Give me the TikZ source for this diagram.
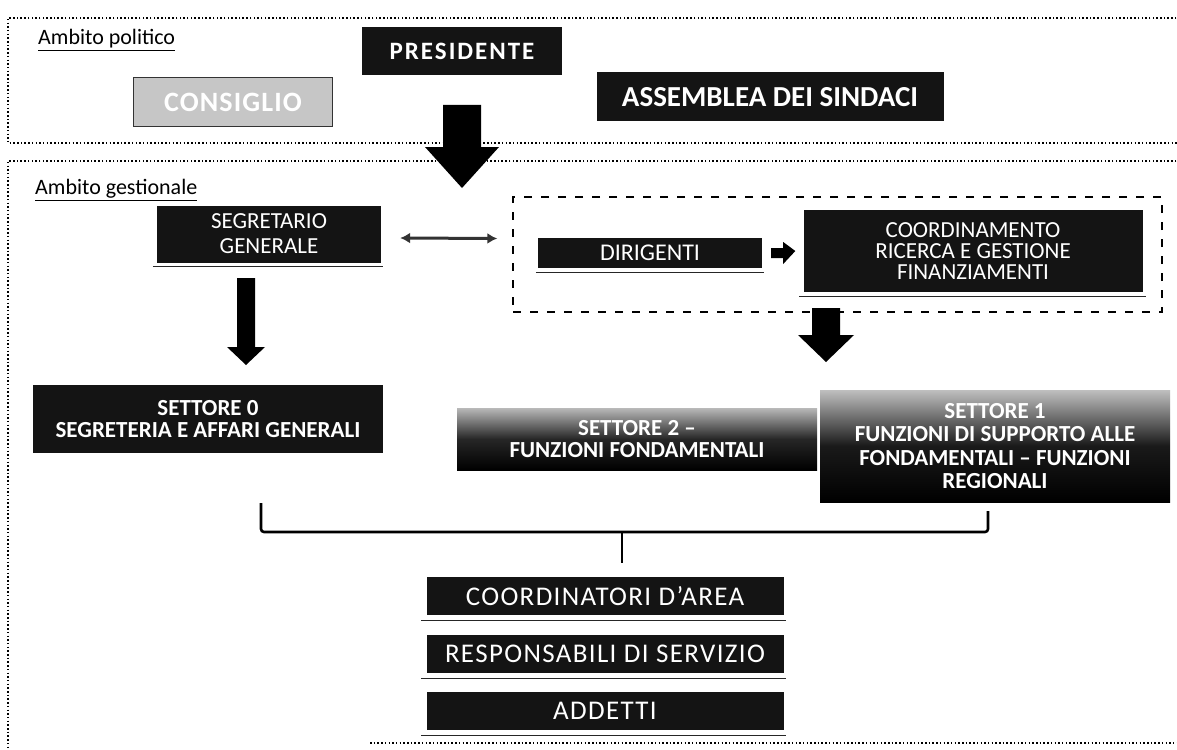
\documentclass[tikz,border=0pt]{standalone}
\usepackage{fontspec}
\setmainfont{Carlito}
\usetikzlibrary{calc,arrows.meta}
\tikzset{
  blk/.style={fill=black!92, text=white, inner sep=0pt, align=center, font=\bfseries\fontsize{23}{22}\selectfont},
  regbox/.style={blk, font=\fontsize{27}{29}\selectfont\addfontfeatures{LetterSpace=5}},
  zone/.style={draw=black, line width=1.8pt, dash pattern=on 1.5pt off 2.2pt},
  lbl/.style={anchor=west, inner sep=0pt, font=\fontsize{22}{24}\selectfont},
  shline/.style={draw=black!85, line width=1.2pt},
}
\newcommand\blkarrowdown[6]{%
  \fill[black] (#1-#4,#2) -- (#1+#4,#2) -- (#1+#4,#3-#6) -- (#1+#5,#3-#6) -- (#1,#3) -- (#1-#5,#3-#6) -- (#1-#4,#3-#6) -- cycle;}
\begin{document}
\begin{tikzpicture}[x=1pt,y=-1pt]
\useasboundingbox (0,0) rectangle (1177,749);
\fill[white] (0,0) rectangle (1177,749);
% zones
\draw[zone] (1180,18) -- (8,18) -- (8,143) -- (1180,143);
\draw[zone] (1180,161) -- (8,161) -- (8,752);
\draw[zone] (370,743) -- (1180,743);
\node[lbl] (amp) at (38,40) {\underline{Ambito politico}};
\node[lbl] (amg) at (35,190) {\underline{Ambito gestionale}};
% political
\node[blk, minimum width=200, minimum height=48, font=\bfseries\fontsize{25}{27}\selectfont\addfontfeatures{LetterSpace=8}] (pres) at (462,51) {PRESIDENTE};
\node[blk, fill=gray!45, draw=black!80, line width=1pt, minimum width=199, minimum height=49, font=\bfseries\fontsize{28}{30}\selectfont\addfontfeatures{LetterSpace=4}] (cons) at (233,102) {CONSIGLIO};
\node[blk, minimum width=347, minimum height=49, font=\bfseries\fontsize{29}{31}\selectfont] (ass) at (770,97) {ASSEMBLEA DEI SINDACI};
\blkarrowdown{462}{105}{188}{19}{37}{41}
% management
\node[blk, font=\fontsize{23}{25}\selectfont, minimum width=224, minimum height=57] (seg) at (269,234) {SEGRETARIO\\GENERALE};
\draw[shline] ($(seg.south west)+(-4,4)$) -- ($(seg.south east)+(2,4)$);
\node[draw=black, line width=1.4pt, dash pattern=on 8pt off 9pt, minimum width=649, minimum height=115, inner sep=0pt] (dash) at (837.5,254.5) {};
\node[blk, font=\fontsize{24}{26}\selectfont, minimum width=224, minimum height=30] (dir) at (650,253) {DIRIGENTI};
\draw[shline] ($(dir.south west)+(-2,4)$) -- ($(dir.south east)+(2,4)$);
\node[blk, font=\fontsize{23}{21}\selectfont, minimum width=339, minimum height=82] (coord) at (973,251) {COORDINAMENTO\\RICERCA E GESTIONE\\FINANZIAMENTI};
\draw[shline] ($(coord.south west)+(-4,4)$) -- ($(coord.south east)+(3,4)$);
\draw[black!80, line width=3pt, {Latex[length=10pt,width=11pt]}-{Latex[length=10pt,width=11pt]}] ($(seg.east)+(19,4)$) -- ($(dash.west)+(-15,-16)$);
% small arrow dir -> coord
\fill[black] ($(dir.east)+(9,-5)$) -- ($(dir.east)+(21,-5)$) -- ($(dir.east)+(21,-11)$) -- ($(coord.west)+(-8,0)$) -- ($(dir.east)+(21,11)$) -- ($(dir.east)+(21,5)$) -- ($(dir.east)+(9,5)$) -- cycle;
\blkarrowdown{246}{278}{365}{9}{19}{18}
\blkarrowdown{826}{308}{362}{14}{28}{27}
% sectors
\node[blk, minimum width=350, minimum height=68] (s0) at (208,419) {SETTORE 0\\SEGRETERIA E AFFARI GENERALI};
\node[blk, top color=gray!55, bottom color=black, middle color=black!85, minimum width=360, minimum height=62] (s2) at (637,439) {SETTORE 2 --\\FUNZIONI FONDAMENTALI};
\node[blk, font=\bfseries\fontsize{23}{23.5}\selectfont, top color=gray!50, bottom color=black, middle color=black!90, minimum width=350, minimum height=112] (s1) at (995,446) {SETTORE 1\\FUNZIONI DI SUPPORTO ALLE\\FONDAMENTALI -- FUNZIONI\\REGIONALI};
% bracket
\coordinate (bl) at (261,503);
\coordinate (br) at (988,511);
\coordinate (bm) at (622,532);
\draw[line width=2.6pt, rounded corners=3pt] (bl) -- (bl |- bm) -- (br |- bm) -- (br);
\draw[line width=2.6pt] (bm) -- ++(0,31) coordinate (bstem);
% staff
\node[regbox, minimum width=357, minimum height=38] (ca) at (605,596) {COORDINATORI D'AREA};
\node[regbox, minimum width=357, minimum height=38] (rs) at (605,654) {RESPONSABILI DI SERVIZIO};
\node[regbox, minimum width=357, minimum height=38] (ad) at (605,711) {ADDETTI};
\foreach \n in {ca,rs,ad} \draw[shline] ($(\n.south west)+(-5,5)$) -- ($(\n.south east)+(2,5)$);
\end{tikzpicture}
\end{document}
